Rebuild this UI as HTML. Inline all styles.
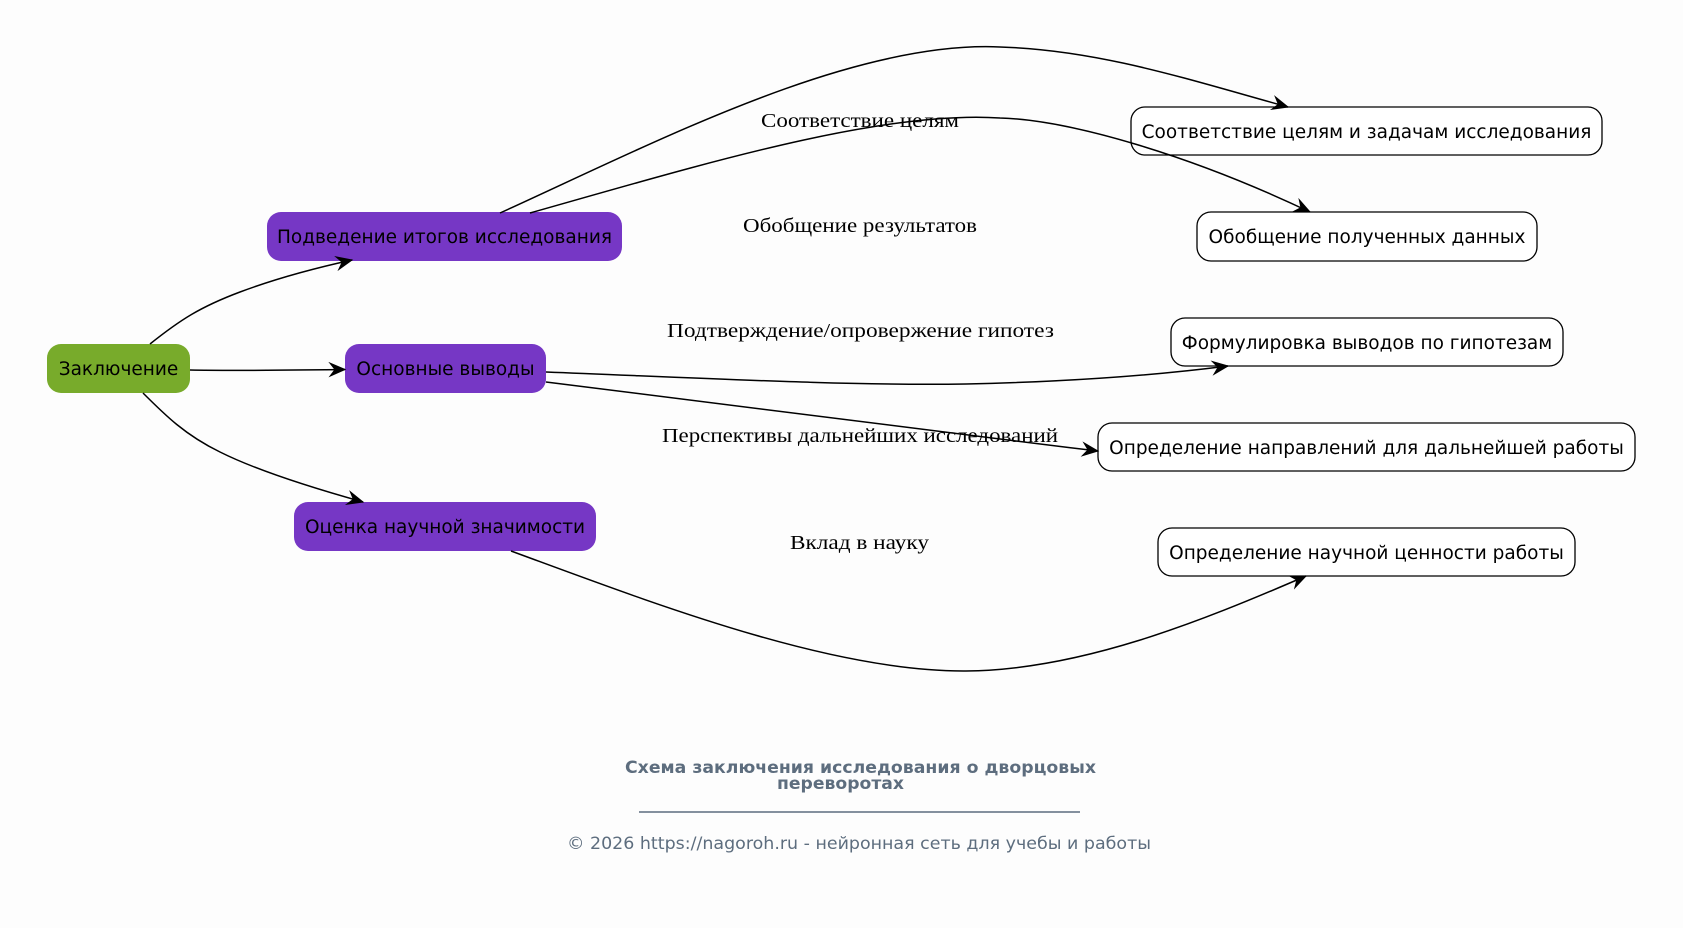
<!DOCTYPE html>
<html>
<head>
<meta charset="utf-8">
<style>
  html, body { margin:0; padding:0; background:#fdfdfd; }
  body { width:1683px; height:928px; overflow:hidden; }
  svg { display:block; }
  .nt { font-family:"DejaVu Sans","Liberation Sans",sans-serif; font-size:18.5px; fill:#000; text-anchor:middle; }
  .el { font-family:"Liberation Serif","DejaVu Serif",serif; font-size:20px; fill:#000; }
  .edge { fill:none; stroke:#000; stroke-width:1.5; marker-end:url(#vee); }
</style>
</head>
<body>
<svg width="1683" height="928" viewBox="0 0 1683 928" xmlns="http://www.w3.org/2000/svg">
  <defs>
    <marker id="vee" markerUnits="userSpaceOnUse" markerWidth="20" markerHeight="20" refX="0" refY="0" orient="auto" overflow="visible">
      <path d="M0,0 L-15,-6.5 L-10,0 L-15,6.5 Z" fill="#000" stroke="#000" stroke-width="1"/>
    </marker>
  </defs>

  <rect x="0" y="0" width="1683" height="928" fill="#fdfdfd"/>

  <!-- Nodes -->
  <rect x="47" y="344" width="143" height="49" rx="14" ry="14" fill="#78ab2b"/>
  <text class="nt" x="118.5" y="375">Заключение</text>

  <rect x="267" y="212" width="355" height="49" rx="14" ry="14" fill="#7637c5"/>
  <text class="nt" x="444.5" y="243">Подведение итогов исследования</text>

  <rect x="345" y="344" width="201" height="49" rx="14" ry="14" fill="#7637c5"/>
  <text class="nt" x="445.5" y="375">Основные выводы</text>

  <rect x="294" y="502" width="302" height="49" rx="14" ry="14" fill="#7637c5"/>
  <text class="nt" x="445" y="533">Оценка научной значимости</text>

  <rect x="1131" y="107" width="471" height="48" rx="14" ry="14" fill="#ffffff" stroke="#000" stroke-width="1.3"/>
  <text class="nt" x="1366.5" y="138">Соответствие целям и задачам исследования</text>

  <rect x="1197" y="212" width="340" height="49" rx="14" ry="14" fill="#ffffff" stroke="#000" stroke-width="1.3"/>
  <text class="nt" x="1367" y="243">Обобщение полученных данных</text>

  <rect x="1171" y="318" width="392" height="48" rx="14" ry="14" fill="#ffffff" stroke="#000" stroke-width="1.3"/>
  <text class="nt" x="1367" y="349">Формулировка выводов по гипотезам</text>

  <rect x="1098" y="423" width="537" height="48" rx="14" ry="14" fill="#ffffff" stroke="#000" stroke-width="1.3"/>
  <text class="nt" x="1366.5" y="454">Определение направлений для дальнейшей работы</text>

  <rect x="1158" y="528" width="417" height="48" rx="14" ry="14" fill="#ffffff" stroke="#000" stroke-width="1.3"/>
  <text class="nt" x="1366.5" y="559">Определение научной ценности работы</text>

  <!-- Edge labels -->
  <text class="el" x="761" y="127" textLength="198" lengthAdjust="spacingAndGlyphs">Соответствие целям</text>
  <text class="el" x="743" y="232" textLength="234" lengthAdjust="spacingAndGlyphs">Обобщение результатов</text>
  <text class="el" x="667" y="337" textLength="387" lengthAdjust="spacingAndGlyphs">Подтверждение/опровержение гипотез</text>
  <text class="el" x="662" y="442" textLength="396" lengthAdjust="spacingAndGlyphs">Перспективы дальнейших исследований</text>
  <text class="el" x="790" y="549" textLength="139" lengthAdjust="spacingAndGlyphs">Вклад в науку</text>

  <!-- Edges -->
  <path class="edge" d="M150,344 C180,320 200,307 240,292 C280,277 320,267 352,260"/>
  <path class="edge" d="M190,370 C240,371 290,370 345,369.5"/>
  <path class="edge" d="M143,393 C165,415 185,435 220,452 C260,472 320,490 363,502"/>
  <path class="edge" d="M500,213 C650,145 850,40 1000,47 C1100,50 1190,80 1288,107"/>
  <path class="edge" d="M530,213 C700,165 880,110 1000,118 C1070,120 1190,155 1310,212"/>
  <path class="edge" d="M546,372 C700,378 850,386 966,384 C1060,382 1150,376 1228,366"/>
  <path class="edge" d="M546,382 C700,402 900,428 1098,451"/>
  <path class="edge" d="M511,551 C650,602 830,672 966,671 C1080,670 1200,622 1306,576"/>

  <!-- Title & footer -->
  <text x="625" y="773" font-family="'DejaVu Sans','Liberation Sans',sans-serif" font-weight="bold" font-size="17" fill="#5d6d7e" textLength="471" lengthAdjust="spacingAndGlyphs">Схема заключения исследования о дворцовых</text>
  <text x="777" y="789" font-family="'DejaVu Sans','Liberation Sans',sans-serif" font-weight="bold" font-size="17" fill="#5d6d7e" textLength="127" lengthAdjust="spacingAndGlyphs">переворотах</text>
  <line x1="639" y1="812" x2="1080" y2="812" stroke="#5d6d7e" stroke-width="1.4"/>
  <text x="567" y="849" font-family="'DejaVu Sans','Liberation Sans',sans-serif" font-size="17" fill="#5d6d7e" textLength="584" lengthAdjust="spacingAndGlyphs">© 2026 https://nagoroh.ru - нейронная сеть для учебы и работы</text>
</svg>
</body>
</html>
